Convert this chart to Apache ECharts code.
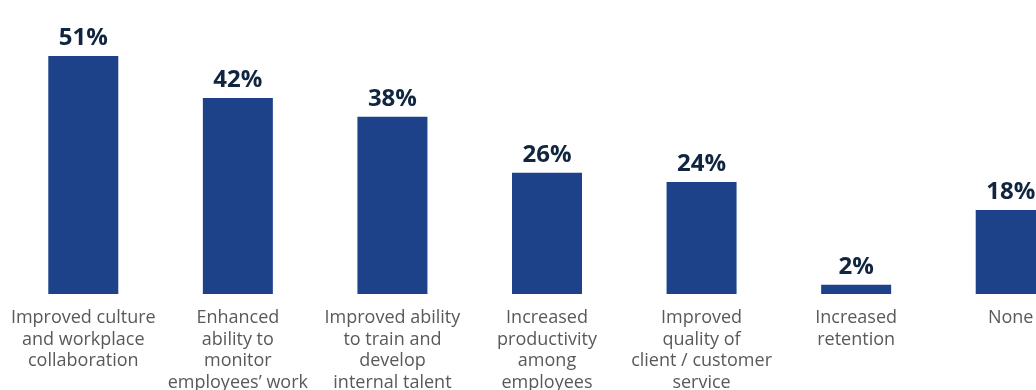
<!DOCTYPE html>
<html>
<head>
<meta charset="utf-8">
<script src="https://cdn.jsdelivr.net/npm/echarts@6/dist/echarts.min.js"></script>
<style>
  html, body { margin: 0; padding: 0; background: #ffffff; }
  #chart { width: 1036px; height: 390px; }
</style>
</head>
<body>
<div id="chart"></div>
<script>
// Reported outcomes and the share of respondents citing each
const categories = [
  'Improved culture\nand workplace\ncollaboration',
  'Enhanced\nability to\nmonitor\nemployees\u2019 work',
  'Improved ability\nto train and\ndevelop\ninternal talent',
  'Increased\nproductivity\namong\nemployees',
  'Improved\nquality of\nclient / customer\nservice',
  'Increased\nretention',
  'None'
];
const shares = [51, 42, 38, 26, 24, 2, 18];

const chart = echarts.init(document.getElementById('chart'), null, { renderer: 'canvas' });

chart.setOption({
  animation: false,
  backgroundColor: '#ffffff',
  // the plot runs past the right edge, so the last column is cut off
  grid: {
    left: 6, width: 1082, top: 0, bottom: 96,
    containLabel: false,
    outerBoundsMode: 'none'
  },
  xAxis: {
    type: 'category',
    data: categories,
    axisLine: { show: false },
    axisTick: { show: false },
    axisLabel: {
      interval: 0,
      margin: 13,
      hideOverlap: false,
      color: '#58595b',
      fontFamily: 'Open Sans',
      fontSize: 18,
      lineHeight: 21.7
    }
  },
  yAxis: {
    type: 'value',
    min: 0,
    max: 63,
    show: false,
    splitLine: { show: false }
  },
  series: [{
    type: 'bar',
    data: shares,
    barWidth: 70,
    itemStyle: { color: '#1d4289' },
    label: {
      show: true,
      position: 'top',
      distance: 6,
      formatter: '{c}%',
      color: '#10253f',
      fontFamily: 'Open Sans',
      fontWeight: 'bold',
      fontSize: 24
    }
  }]
});
</script>
</body>
</html>
